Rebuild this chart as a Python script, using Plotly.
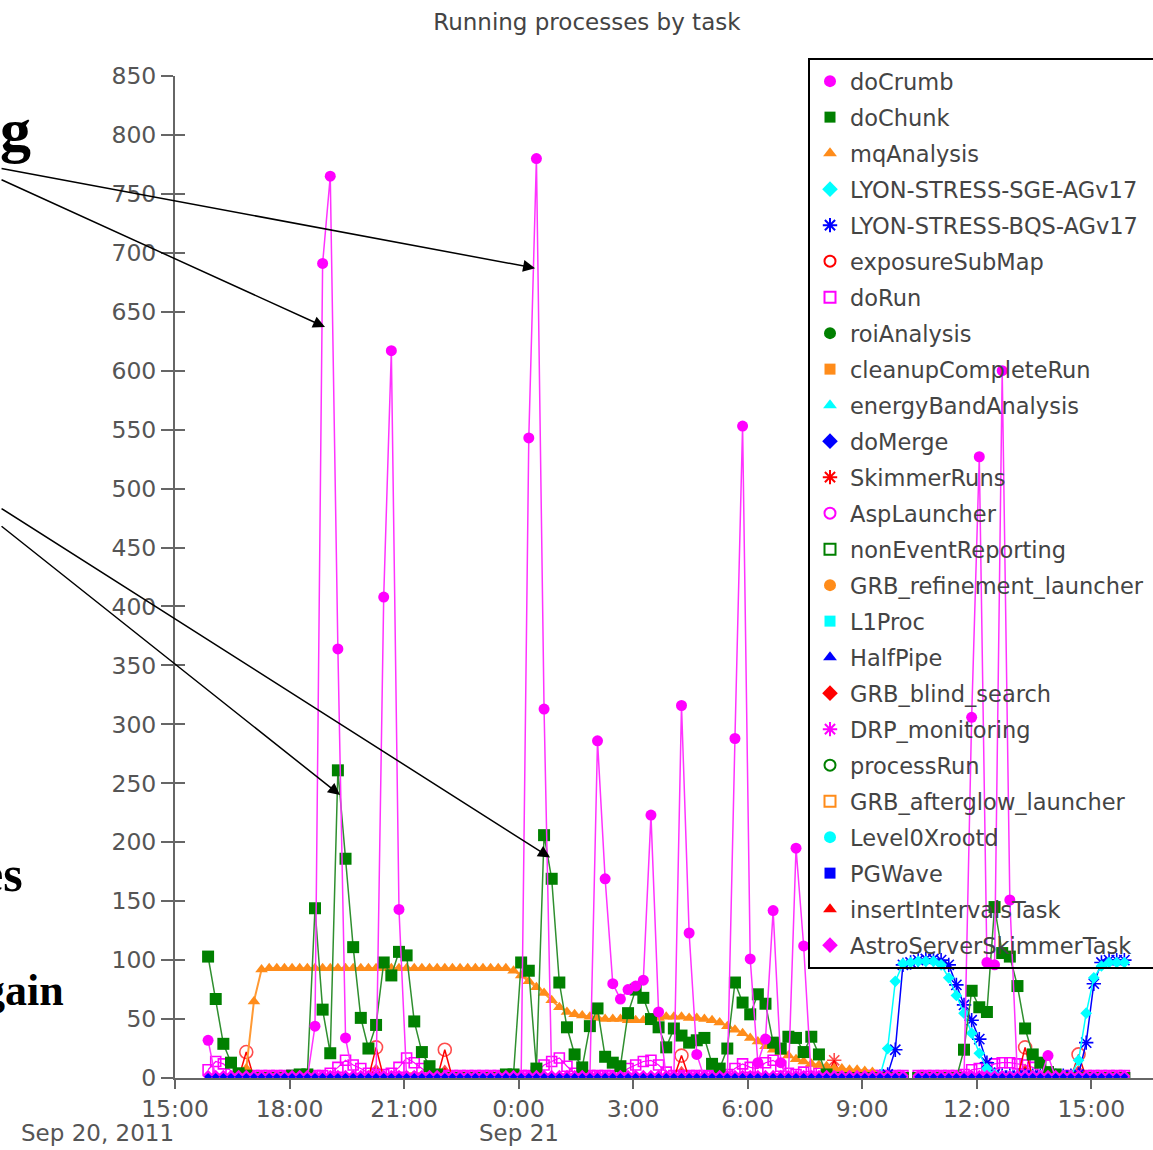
import pandas as pd
import plotly.graph_objects as go

# ---------------- data ----------------
N = None
sample_start = "2011-09-20 15:52"   # first sample, then one sample every 12 minutes
sample_step = "12min"

task_names = [
    "doCrumb", "doChunk", "mqAnalysis", "LYON-STRESS-SGE-AGv17", "LYON-STRESS-BQS-AGv17",
    "exposureSubMap", "doRun", "roiAnalysis", "cleanupCompleteRun", "energyBandAnalysis",
    "doMerge", "SkimmerRuns", "AspLauncher", "nonEventReporting", "GRB_refinement_launcher",
    "L1Proc", "HalfPipe", "GRB_blind_search", "DRP_monitoring", "processRun",
    "GRB_afterglow_launcher", "Level0Xrootd", "PGWave", "insertIntervalsTask",
    "AstroServerSkimmerTask",
]

doCrumb = [
    32, 0, 0, 0, 0, 0, 0, 0, 0, 0,
    0, 0, 0, 0, 44, 691, 765, 364, 34, 0,
    0, 0, 0, 408, 617, 143, 0, 0, 0, 0,
    0, 0, 0, 0, 0, 0, 0, 0, 0, 0,
    0, 0, 543, 780, 313, 0, 0, 0, 0, 0,
    0, 286, 169, 80, 67, 75, 78, 83, 223, 56,
    0, 0, 316, 123, 20, 0, 0, 0, 0, 288,
    553, 101, 13, 33, 142, 13, 0, 195, 112, 0,
    0, 0, 0, 0, 0, 0, 0, 0, 0, 0,
    0, 0, N, 0, 0, 0, 0, 0, 0, 0,
    306, 527, 98, 96, 600, 151, 0, 0, 0, 0,
    19, 0, 0, 0, 0, 0, 0, 0, 0, 0,
    0,
]

doChunk = [
    103, 67, 29, 13, 4, 2, 0, 0, 0, 0,
    0, 2, 3, 3, 144, 58, 21, 261, 186, 111,
    51, 25, 45, 98, 87, 107, 104, 48, 22, 10,
    3, 0, 0, 0, 0, 0, 0, 0, 0, 3,
    3, 98, 91, 8, 206, 169, 81, 43, 20, 9,
    44, 59, 18, 13, 10, 55, 75, 68, 50, 43,
    26, 42, 36, 30, 32, 34, 12, 8, 25, 81,
    64, 54, 71, 63, 30, 25, 35, 34, 22, 35,
    20, 3, 0, 0, 0, 0, 0, 0, 0, 0,
    0, 0, N, 0, 0, 0, 0, 0, 0, 24,
    74, 60, 56, 145, 106, 103, 78, 42, 20, 13,
    5, 3, 0, 0, 0, 0, 0, 0, 0, 0,
    0,
]

doRun = [
    7, 14, 12, 6, 3, 2, 2, 2, 2, 2,
    2, 2, 2, 2, 2, 2, 4, 9, 15, 11,
    8, 4, 3, 3, 4, 9, 17, 13, 8, 3,
    2, 2, 2, 2, 2, 2, 2, 2, 2, 2,
    2, 2, 2, 5, 11, 14, 17, 10, 4, 2,
    2, 2, 2, 2, 3, 8, 11, 14, 15, 11,
    5, 2, 2, 2, 2, 2, 2, 2, 3, 8,
    12, 9, 8, 13, 15, 10, 4, 3, 5, 6,
    4, 2, 2, 2, 2, 2, 2, 2, 2, 2,
    2, 2, N, 2, 2, 2, 2, 2, 2, 3,
    7, 8, 9, 12, 13, 13, 12, 11, 9, 6,
    4, 2, 2, 2, 2, 2, 2, 2, 2, 2,
    2,
]

astro_baseline = [
    2, 2, 2, 2, 2, 2, 2, 2, 2, 2,
    2, 2, 2, 2, 2, 2, 2, 2, 2, 2,
    2, 2, 2, 2, 2, 2, 2, 2, 2, 2,
    2, 2, 2, 2, 2, 2, 2, 2, 2, 2,
    2, 2, 2, 2, 2, 2, 2, 2, 2, 2,
    2, 2, 2, 2, 2, 2, 2, 2, 2, 2,
    2, 2, 2, 2, 2, 2, 2, 2, 2, 2,
    2, 2, 2, 2, 2, 2, 2, 2, 2, 2,
    2, 2, 2, 2, 2, 2, 2, 2, 2, 2,
    2, 2, N, 2, 2, 2, 2, 2, 2, 2,
    2, 2, 2, 2, 2, 2, 2, 2, 2, 2,
    2, 2, 2, 2, 2, 2, 2, 2, 2, 2,
    2,
]

doMerge = [
    1, 1, 1, 1, 1, 1, 1, 1, 1, 1,
    1, 1, 1, 1, 1, 1, 1, 1, 1, 1,
    1, 1, 1, 1, 1, 1, 1, 1, 1, 1,
    1, 1, 1, 1, 1, 1, 1, 1, 1, 1,
    1, 1, 1, 1, 1, 1, 1, 1, 1, 1,
    1, 1, 1, 1, 1, 1, 1, 1, 1, 1,
    1, 1, 1, 1, 1, 1, 1, 1, 1, 1,
    1, 1, 1, 1, 1, 1, 1, 1, 1, 1,
    1, 1, 1, 1, 1, 1, 1, 1, 1, 1,
    1, 1, N, 1, 1, 1, 1, 1, 1, 1,
    1, 1, 1, 1, 1, 1, 1, 1, 1, 1,
    1, 1, 1, 1, 1, 1, 1, 1, 1, 1,
    1,
]

mq_start = "2011-09-20 16:52"
mqAnalysis = [
    8, 65, 92, 93, 93, 93, 93, 93, 93, 93,
    93, 93, 93, 93, 93, 93, 93, 93, 93, 93,
    93, 93, 93, 93, 93, 93, 93, 93, 93, 93,
    93, 93, 93, 93, 93, 91, 87, 82, 77, 72,
    66, 60, 56, 54, 53, 52, 51, 50, 50, 50,
    49, 49, 49, 50, 51, 52, 52, 52, 51, 51,
    50, 49, 47, 44, 41, 38, 34, 31, 27, 24,
    22, 19, 16, 14, 12, 11, 10, 8, 8, 7,
    7, 6, 5,
]

lyon_start = "2011-09-21 09:16"
lyon_sge = [
    0, 2, 25, 82, 97, 98, 99, 99, 99, 96,
    85, 70, 55, 38, 21, 8, 3, 2, 2, 2,
    2, 2, 2, 2, 2, 2, 2, 15, 55, 85,
    95, 98, 98, 98,
]
lyon_bqs = [
    0, 1, 3, 24, 96, 98, 100, 101, 101, 100,
    96, 79, 62, 49, 33, 13, 3, 2, 2, 2,
    2, 2, 2, 2, 2, 2, 2, 3, 30, 80,
    98, 100, 100, 100,
]

exposure_times = [
    "2011-09-20 16:40", "2011-09-20 16:52", "2011-09-20 17:04", "2011-09-20 17:04",
    "2011-09-20 20:04", "2011-09-20 20:16", "2011-09-20 20:28", "2011-09-20 20:28",
    "2011-09-20 21:52", "2011-09-20 22:04", "2011-09-20 22:16", "2011-09-20 22:16",
    "2011-09-21 04:04", "2011-09-21 04:16", "2011-09-21 04:28", "2011-09-21 04:28",
    "2011-09-21 13:04", "2011-09-21 13:16", "2011-09-21 13:28", "2011-09-21 13:28",
    "2011-09-21 14:28", "2011-09-21 14:40", "2011-09-21 14:52",
]
exposure_values = [0, 22, 0, N, 0, 26, 0, N, 0, 24, 0, N, 0, 19, 0, N, 0, 26, 0, N, 0, 20, 0]
insert_values = [0, 8, 0, N, 0, 9, 0, N, 0, 8, 0, N, 0, 7, 0, N, 0, 9, 0, N, 0, 8, 0]

skimmer_times = ["2011-09-21 08:04", "2011-09-21 08:16", "2011-09-21 08:28"]
skimmer_values = [0, 15, 0]

cleanup_times = [
    "2011-09-20 17:16", "2011-09-20 17:28", "2011-09-20 17:40", "2011-09-20 17:52", "2011-09-20 17:52",
    "2011-09-20 21:04", "2011-09-20 21:16", "2011-09-20 21:28", "2011-09-20 21:28",
    "2011-09-20 22:16", "2011-09-20 22:28", "2011-09-20 22:40", "2011-09-20 22:52",
    "2011-09-20 23:04", "2011-09-20 23:16", "2011-09-20 23:28", "2011-09-20 23:28",
    "2011-09-21 01:28", "2011-09-21 01:40", "2011-09-21 01:52", "2011-09-21 02:04",
]
cleanup_values = [4, 4, 4, 4, N, 4, 4, 4, N, 4, 4, 4, 4, 4, 4, 4, N, 3, 3, 3, 3]

y_ticks = [0, 50, 100, 150, 200, 250, 300, 350, 400, 450, 500, 550, 600, 650, 700, 750, 800, 850]
x_range = ["2011-09-20 15:00", "2011-09-21 16:37"]
tick_start = "2011-09-20 15:00"
date_labels = [("2011-09-20 15:00", "Sep 20, 2011", "right"), ("2011-09-21 00:00", "Sep 21", "center")]

# ---------------- styles ----------------
styles = {
    "doCrumb": ("circle", "#ff00ff"),
    "doChunk": ("square", "#008000"),
    "mqAnalysis": ("triangle-up", "#ff8c1a"),
    "LYON-STRESS-SGE-AGv17": ("diamond", "#00ffff"),
    "LYON-STRESS-BQS-AGv17": ("asterisk-open", "#0000ff"),
    "exposureSubMap": ("circle-open", "#ff0000"),
    "doRun": ("square-open", "#ff00ff"),
    "roiAnalysis": ("circle", "#008000"),
    "cleanupCompleteRun": ("square", "#ff8c1a"),
    "energyBandAnalysis": ("triangle-up", "#00ffff"),
    "doMerge": ("diamond", "#0000ff"),
    "SkimmerRuns": ("asterisk-open", "#ff0000"),
    "AspLauncher": ("circle-open", "#ff00ff"),
    "nonEventReporting": ("square-open", "#008000"),
    "GRB_refinement_launcher": ("circle", "#ff8c1a"),
    "L1Proc": ("square", "#00ffff"),
    "HalfPipe": ("triangle-up", "#0000ff"),
    "GRB_blind_search": ("diamond", "#ff0000"),
    "DRP_monitoring": ("asterisk-open", "#ff00ff"),
    "processRun": ("circle-open", "#008000"),
    "GRB_afterglow_launcher": ("square-open", "#ff8c1a"),
    "Level0Xrootd": ("circle", "#00ffff"),
    "PGWave": ("square", "#0000ff"),
    "insertIntervalsTask": ("triangle-up", "#ff0000"),
    "AstroServerSkimmerTask": ("diamond", "#ff00ff"),
}
legend_sizes = {"circle": 12, "square": 11, "triangle-up": 12, "diamond": 12,
                "asterisk-open": 12, "circle-open": 11, "square-open": 11}
# the legend box runs past the right edge of the crop
legend_padding = "\u00a0\u00a0\u00a0"

TICK_FONT = dict(family="DejaVu Sans", size=23.5, color="#555555")
DATE_FONT = dict(family="DejaVu Sans", size=23, color="#555555")
AXIS_GREY = "#666666"

fig = go.Figure()


def times_from(start, values):
    return pd.date_range(start, periods=len(values), freq=sample_step)


def add_series(name, x, y, size, line_color=None, line_width=1.5, hide_zero_markers=False):
    symbol, color = styles[name]
    is_open = symbol.endswith("open")
    sizes = size
    if hide_zero_markers:
        sizes = [size if (v is not None and v > 0) else 0 for v in y]
    fig.add_trace(go.Scatter(
        x=x, y=y, mode="lines+markers", name=name, showlegend=False,
        line=dict(color=line_color or color, width=line_width),
        marker=dict(symbol=symbol, color=color, size=sizes,
                    line=dict(color=color, width=1.6 if is_open else 0)),
        connectgaps=False, hoverinfo="skip", cliponaxis=True,
    ))


grid = times_from(sample_start, doCrumb)

# draw order: later legend series underneath, doCrumb on top, baseline tasks last
add_series("insertIntervalsTask", pd.to_datetime(exposure_times), insert_values, 8, hide_zero_markers=True)
add_series("SkimmerRuns", pd.to_datetime(skimmer_times), skimmer_values, 12, hide_zero_markers=True)
add_series("cleanupCompleteRun", pd.to_datetime(cleanup_times), cleanup_values, 4, line_width=2)
add_series("doRun", grid, doRun, 10, line_width=1.2)
add_series("exposureSubMap", pd.to_datetime(exposure_times), exposure_values, 13, hide_zero_markers=True)
add_series("LYON-STRESS-BQS-AGv17", times_from(lyon_start, lyon_bqs), lyon_bqs, 12, line_width=1.5)
add_series("LYON-STRESS-SGE-AGv17", times_from(lyon_start, lyon_sge), lyon_sge, 9, line_width=1.5)
add_series("mqAnalysis", times_from(mq_start, mqAnalysis), mqAnalysis, 11, line_color="#ff9933", line_width=2)
add_series("doChunk", grid, doChunk, 12, line_color="#2f8f2f", line_width=1.5)
add_series("doCrumb", grid, doCrumb, 11, line_color="#ff33ff", line_width=1.5)
add_series("AstroServerSkimmerTask", grid, astro_baseline, 9, line_width=4)
add_series("doMerge", grid, doMerge, 6, line_width=0.5)

# legend entries (marker only)
longest = max(task_names, key=len)
for name in task_names:
    symbol, color = styles[name]
    is_open = symbol.endswith("open")
    label = name + legend_padding if name == longest else name
    fig.add_trace(go.Scatter(
        x=[None], y=[None], mode="markers", name=label, legendgroup=name,
        marker=dict(symbol=symbol, color=color, size=legend_sizes[symbol],
                    line=dict(color=color, width=2 if is_open else 0)),
    ))

# invisible trace for inside ticks axis
fig.add_trace(go.Scatter(x=[None], y=[None], yaxis="y2", showlegend=False, hoverinfo="skip"))

annotations = []
for x_val, label, anchor in date_labels:
    annotations.append(dict(x=x_val, y=0, xref="x", yref="paper", text=label, showarrow=False,
                            xanchor=anchor, yanchor="top", yshift=-41, borderpad=0, font=DATE_FONT))

# overlay arrows of the slide (heads at data positions, tails in pixels at the left edge)
arrow_heads = [
    ("2011-09-21 00:25:52", 687, -535, -100),
    ("2011-09-20 18:55:48", 637, -325, -148),
    ("2011-09-20 19:19:23", 240, -340, -270),
    ("2011-09-21 00:49:26", 187, -550, -350),
]
for hx, hy, ax, ay in arrow_heads:
    annotations.append(dict(x=hx, y=hy, xref="x", yref="y", ax=ax, ay=ay, axref="pixel", ayref="pixel",
                            text="", showarrow=True, arrowhead=2, arrowsize=1.6, arrowwidth=1.5,
                            arrowcolor="black", standoff=0))

# slide text fragments cut by the crop
slide_words = [("g", -0.1452, 0.946, 62), ("es", -0.1534, 0.2036, 50), ("gain", -0.1115, 0.0878, 44)]
for word, px, py, fs in slide_words:
    annotations.append(dict(x=px, y=py, xref="paper", yref="paper", text=word, showarrow=False,
                            xanchor="right", yanchor="middle",
                            font=dict(family="Liberation Serif", size=fs, color="black", weight="bold")))

fig.update_layout(
    width=1153, height=1150,
    margin=dict(l=175, r=0, t=76, b=72, autoexpand=False),
    paper_bgcolor="white", plot_bgcolor="white",
    title=dict(text="Running processes by task", x=0.509, xref="container", xanchor="center",
               y=1 - 22 / 1150, yref="container", yanchor="middle",
               font=dict(family="DejaVu Sans", size=23, color="#444444")),
    xaxis=dict(type="date", range=x_range, tick0=tick_start, dtick=3 * 3600 * 1000,
               tickformat="%-H:%M", showline=True, linecolor=AXIS_GREY, linewidth=2,
               ticks="outside", ticklen=9, tickwidth=2, tickcolor=AXIS_GREY,
               tickfont=TICK_FONT, showgrid=False, zeroline=False),
    yaxis=dict(range=[0, 850], tickvals=y_ticks, showline=True, linecolor=AXIS_GREY, linewidth=2,
               ticks="outside", ticklen=12, tickwidth=2, tickcolor=AXIS_GREY,
               tickfont=TICK_FONT, showgrid=False, zeroline=False),
    yaxis2=dict(range=[0, 850], tickvals=y_ticks, overlaying="y", side="left", ticks="inside",
                ticklen=10, tickwidth=2, tickcolor=AXIS_GREY, showticklabels=False,
                showline=False, showgrid=False, zeroline=False),
    legend=dict(x=(808 - 175) / 978, xanchor="left", y=(1078 - 58) / 1002, yanchor="top",
                bgcolor="rgba(255,255,255,0)", bordercolor="black", borderwidth=2,
                font=dict(family="DejaVu Sans", size=22.5, color="#444444"),
                traceorder="grouped", tracegroupgap=3.75, itemsizing="trace",
                maxheight=1000),
    annotations=annotations,
    showlegend=True,
)

fig.write_html("out.html", config={"displayModeBar": False})
